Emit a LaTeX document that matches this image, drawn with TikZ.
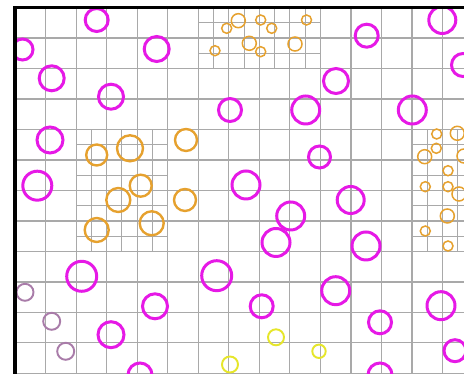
\documentclass[tikz,border=0pt]{standalone}
\usepackage{tikz}
\definecolor{pinkring}{HTML}{E619E6}
\definecolor{amber}{HTML}{E6A12E}
\definecolor{mauve}{HTML}{A97CA9}
\definecolor{lemon}{HTML}{E6E62A}
\definecolor{gridgray}{HTML}{A9A9A9}

\begin{document}
\begin{tikzpicture}[
  x=0.02cm,y=-0.02cm,
  coarse/.style={draw=gridgray,line width=0.65pt},
  fine/.style={draw=gridgray,line width=0.5pt},
  pink/.style={draw=pinkring,line width=1.7pt},
  amber/.style={draw=amber,line width=1.35pt},
  amberthin/.style={draw=amber,line width=0.85pt},
  mauve/.style={draw=mauve,line width=1.1pt},
  lemon/.style={draw=lemon,line width=1.1pt},
  frame/.style={draw=black,line width=1.8pt}
]
\useasboundingbox (0,0) rectangle (464,374);
\clip (0,0) rectangle (464,374);
\fill[white] (0,0) rectangle (464,374);

\begin{scope}
\clip (15,7.3) rectangle (600,500);
% coarse grid and refined cells, in cell units
\begin{scope}[shift={(15,7.5)},x=0.611cm,y=-0.61cm]
\foreach \i in {0,...,16}
  \draw[coarse] (\i,0) -- (\i,13);
\foreach \j in {0,...,12}
  \draw[coarse] (0,\j) -- (17,\j);
% top block
\foreach \i in {6.5,7.5,8.5,9.5}
  \draw[fine] (\i,0) -- (\i,2);
\foreach \j in {0.5,1.5}
  \draw[fine] (6,\j) -- (10,\j);
% left block
\foreach \i in {2.5,3.5,4.5}
  \draw[fine] (\i,4) -- (\i,8);
\foreach \j in {4.5,5.5,6.5,7.5}
  \draw[fine] (2,\j) -- (5,\j);
% right block
\foreach \i in {13.5,14.5,15.5}
  \draw[fine] (\i,4) -- (\i,8);
\foreach \j in {4.5,5.5,6.5,7.5}
  \draw[fine] (13,\j) -- (17,\j);
\end{scope}

% rings
\foreach \cx/\cy/\r in {96.7/20/11.5, 22.5/49.5/10.5, 51.7/78.3/12.5, 111/96.7/12.5,
    156.7/49/12.5, 230/110/11.5, 305.7/110/14, 442.3/20/13.5, 366.7/35.7/11.5,
    463/65/11.5, 336/81/12.5, 412.3/110/14, 50/140/13, 37.3/185.7/14.5,
    246/185/14, 319.5/157/11, 290.7/216/14, 276/242.5/14, 350.7/200/13.5,
    366/246/14, 81.7/276.3/15, 111/334.7/13, 155/306.3/12.5, 140/375/12,
    216.7/275.7/15, 261.7/306.3/11.5, 335.7/290.7/14, 441/305.7/14,
    380/322.3/11.5, 455/350.7/11, 380/375/12}
  \draw[pink] (\cx,\cy) circle (\r);
\foreach \cx/\cy/\r in {96.7/155/10.5, 130/148.3/13, 140.7/185.7/11, 118.3/200/12,
    96.7/230/12, 151.7/223.3/12, 186/140/11, 185/200/11}
  \draw[amber] (\cx,\cy) circle (\r);
\foreach \cx/\cy/\r in {238.3/20.7/7, 226.7/28.3/5, 260.7/20/5, 271.7/28.3/5,
    306.5/20/5, 249.3/43.3/7, 260.7/51.7/5, 215/50.7/5, 295/44/7,
    436.7/134/5, 457.3/133.3/7, 436.3/148.3/5, 424.7/156.7/7, 464/156/7,
    448/170.7/5, 425.3/186.7/5, 448/186.7/5, 459/194/7, 447.3/216/7,
    425.3/231/5, 448/246/5}
  \draw[amberthin] (\cx,\cy) circle (\r);
\foreach \cx/\cy/\r in {25/292.3/8.5, 51.7/321.3/8.5, 65.7/351.3/8.5}
  \draw[mauve] (\cx,\cy) circle (\r);
\foreach \cx/\cy/\r in {276/337.3/8, 230/364.5/8, 319/351.3/6.7}
  \draw[lemon] (\cx,\cy) circle (\r);
\end{scope}

\draw[frame] (15,7.3) rectangle (600,500);
\end{tikzpicture}
\end{document}
